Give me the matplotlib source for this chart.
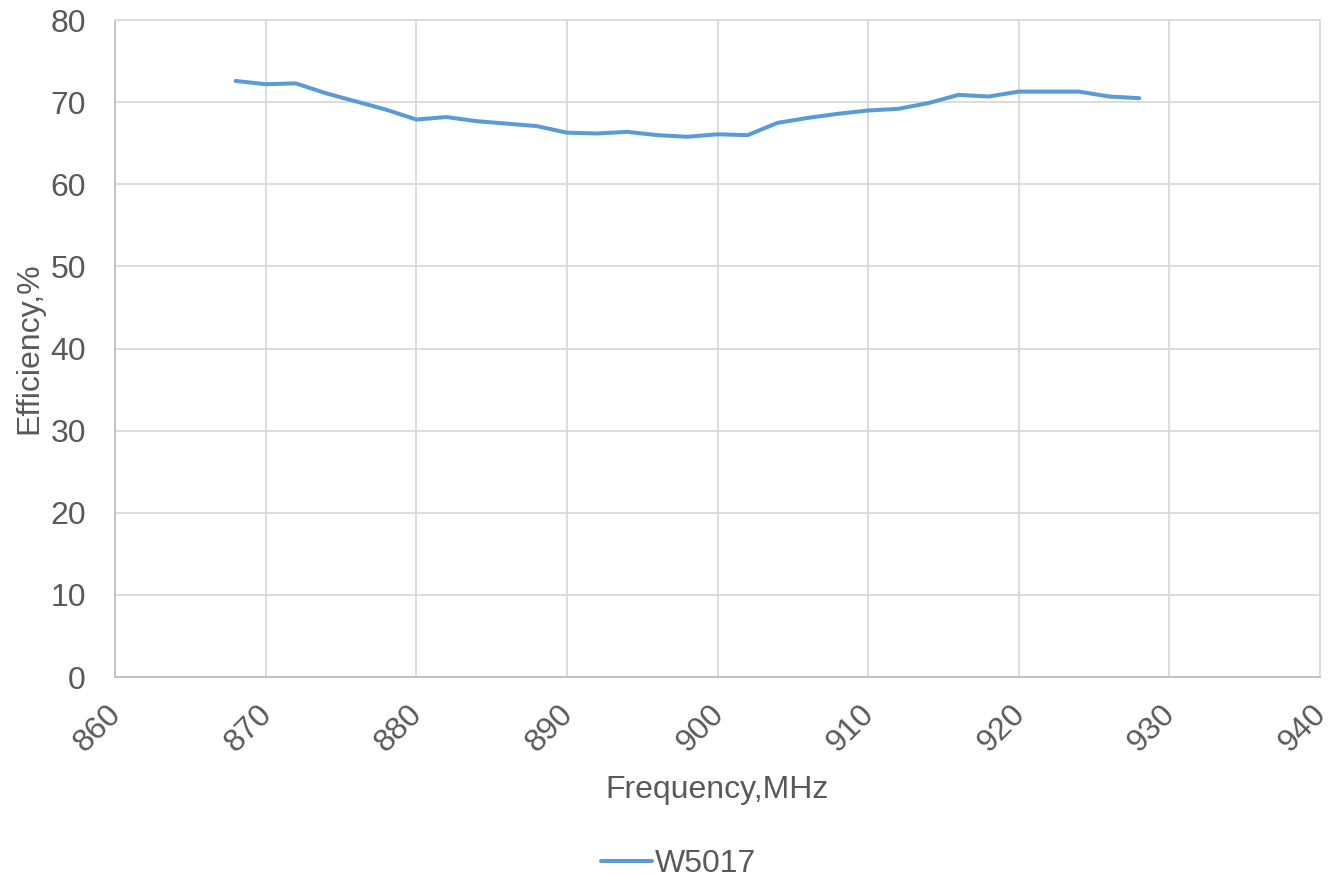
import numpy as np
import matplotlib.pyplot as plt
from matplotlib.transforms import ScaledTranslation

freq = [868, 870, 872, 874, 876, 878, 880, 882, 884, 886, 888, 890, 892, 894, 896, 898,
        900, 902, 904, 906, 908, 910, 912, 914, 916, 918, 920, 922, 924, 926, 928]
eff = [72.6, 72.2, 72.3, 71.1, 70.1, 69.1, 67.9, 68.2, 67.7, 67.4, 67.1, 66.3, 66.2, 66.4, 66.0, 65.8,
       66.1, 66.0, 67.5, 68.1, 68.6, 69.0, 69.2, 69.9, 70.9, 70.7, 71.3, 71.3, 71.3, 70.7, 70.5]
series_name = 'W5017'

x_ticks = np.arange(860, 941, 10)
y_ticks = np.arange(0, 81, 10)

plt.rcParams['font.family'] = ['Liberation Sans', 'DejaVu Sans']
text_color = '#595959'
grid_color = '#d9d9d9'
fs = 23

fig = plt.figure(figsize=(13.38, 8.77), dpi=100)
ax = fig.add_axes([0.086, 0.228, 0.9005, 0.749])

ax.plot(freq, eff, color='#5B9BD5', linewidth=2.9, label=series_name,
        solid_capstyle='round', solid_joinstyle='round')

ax.set_xlim(860, 940)
ax.set_ylim(0, 80)
ax.set_xticks(x_ticks)
ax.set_yticks(y_ticks)
ax.grid(True, color=grid_color, linewidth=1.3)
ax.set_axisbelow(True)

for side, sp in ax.spines.items():
    sp.set_color(grid_color)
    sp.set_linewidth(1.3)
ax.spines['left'].set_color('#bfbfbf')
ax.spines['bottom'].set_color('#bfbfbf')

ax.tick_params(axis='y', length=0, labelsize=fs, labelcolor=text_color, pad=21)
ax.tick_params(axis='x', length=0, labelsize=fs, labelcolor=text_color, pad=16)
# rotated x labels sit a little left of their tick, like the original
shift = ScaledTranslation(-9 / 100, 0, fig.dpi_scale_trans)
for lbl in ax.get_xticklabels():
    lbl.set_rotation(45)
    lbl.set_ha('right')
    lbl.set_rotation_mode('anchor')
    lbl.set_transform(lbl.get_transform() + shift)

ax.set_xlabel('Frequency,MHz', fontsize=fs, color=text_color, labelpad=12)
ax.set_ylabel('Efficiency,%', fontsize=fs, color=text_color, labelpad=4)

fig.legend(loc='lower center', bbox_to_anchor=(0.507, -0.035), frameon=False,
           fontsize=fs, labelcolor=text_color, handlelength=1.6, handletextpad=0.1)

fig.savefig('out.png', dpi=100)
